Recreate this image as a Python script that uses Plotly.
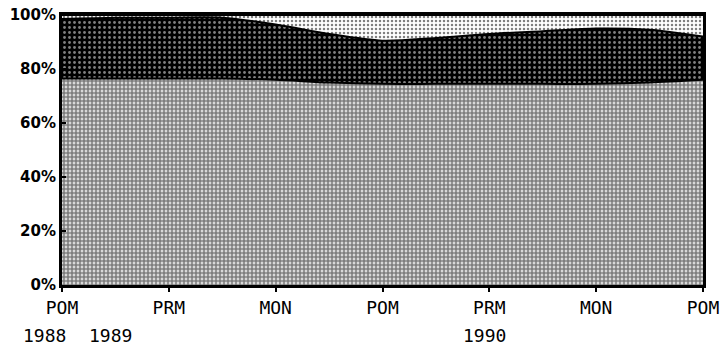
import plotly.graph_objects as go

# Season positions (post-monsoon 1988 through post-monsoon 1990), half-season steps
positions = [0, 0.5, 1, 1.5, 2, 2.5, 3, 3.5, 4, 4.5, 5, 5.5, 6]

# Percentage shares of the three components (stacked to 100%)
share_base = [76.5, 76.5, 76.5, 76.5, 76.0, 75.0, 74.5, 74.5, 74.5, 74.5, 74.5, 75.0, 76.0]
share_mid = [22.0, 22.5, 22.5, 22.5, 20.5, 18.0, 16.0, 17.0, 18.5, 19.5, 20.5, 19.5, 16.0]
share_top = [1.5, 1.0, 1.0, 1.0, 3.5, 7.0, 9.5, 8.5, 7.0, 6.0, 5.0, 5.5, 8.0]

tick_pos = [0, 1, 2, 3, 4, 5, 6]
tick_text = ["POM", "PRM", "MON", "POM", "PRM", "MON", "POM"]
year_pos = [0, 1, 4]
year_text = ["1988", "1989", "1990"]
year_shift = [-18, -58, -5]

fig = go.Figure()

layers = [
    (share_base, dict(shape=".", fgcolor="black", bgcolor="white", size=4, solidity=0.75)),
    (share_mid, dict(shape=".", fgcolor="white", bgcolor="black", size=5, solidity=0.25)),
    (share_top, dict(shape=".", fgcolor="black", bgcolor="white", size=4, solidity=0.3)),
]
for vals, pat in layers:
    fig.add_trace(go.Scatter(
        x=positions, y=vals, mode="lines", stackgroup="one",
        line=dict(color="black", width=2, shape="spline", smoothing=0.8),
        fillpattern=pat, hoverinfo="skip", showlegend=False,
    ))

for xp, txt, sh in zip(year_pos, year_text, year_shift):
    fig.add_annotation(x=xp, y=-0.14, xref="x", yref="paper", text=txt,
                       showarrow=False, yanchor="top", xshift=sh,
                       font=dict(family="DejaVu Sans Mono", size=18, color="black"))

fig.update_xaxes(
    range=[0, 6], tickvals=tick_pos, ticktext=tick_text,
    showgrid=False, zeroline=False, automargin=False,
    showline=True, linecolor="black", linewidth=3, mirror=True,
    ticks="outside", ticklen=4, tickwidth=2, tickcolor="black",
    tickfont=dict(family="DejaVu Sans Mono", size=18, color="black"),
)
fig.update_yaxes(
    range=[0, 100], tickvals=[0, 20, 40, 60, 80, 100],
    ticktext=["0%", "20%", "40%", "60%", "80%", "100%"],
    showgrid=False, zeroline=False, automargin=False,
    showline=True, linecolor="black", linewidth=3, mirror=True,
    ticks="inside", ticklen=4, tickwidth=2, tickcolor="black",
    tickfont=dict(family="DejaVu Sans", size=15, color="black", weight="bold"),
)

fig.update_layout(
    width=726, height=357,
    margin=dict(l=62, r=23, t=15, b=72),
    paper_bgcolor="white", plot_bgcolor="white",
)

fig.write_html("out.html")
